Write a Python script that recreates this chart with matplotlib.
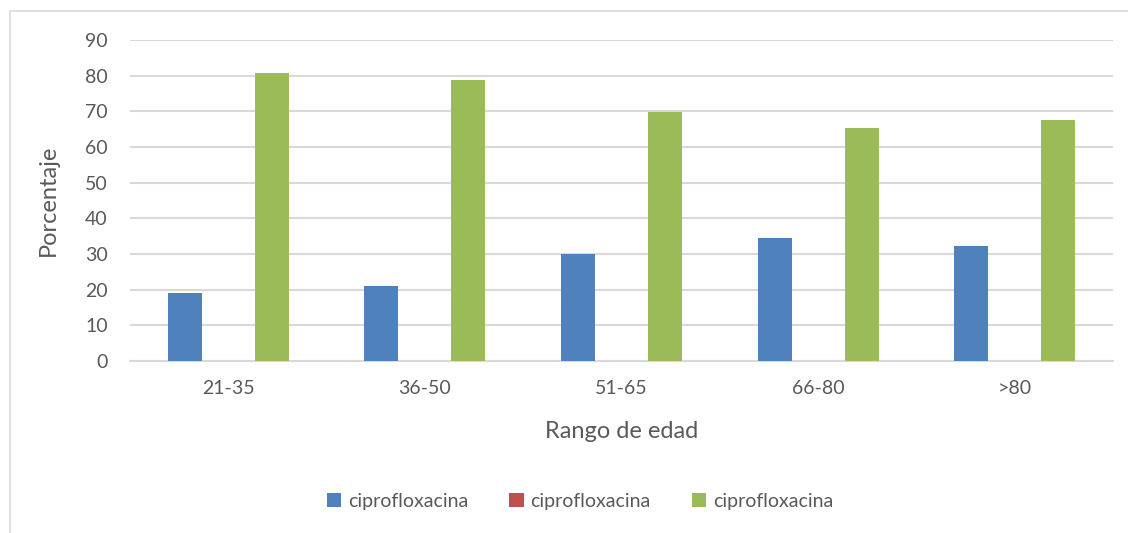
import numpy as np
import matplotlib.pyplot as plt
from matplotlib.patches import Rectangle

plt.rcParams['font.family'] = ['Lato', 'DejaVu Sans']

# Data
categories = ["21-35", "36-50", "51-65", "66-80", ">80"]
series_names = ["ciprofloxacina", "ciprofloxacina", "ciprofloxacina"]
serie_azul = [19.1, 21.0, 30.0, 34.4, 32.2]
serie_roja = [0, 0, 0, 0, 0]
serie_verde = [80.7, 78.8, 69.8, 65.3, 67.6]
yticks = list(range(0, 100, 10))

colors = ["#4f81bd", "#c0504d", "#9bbb59"]
text_color = "#595959"
grid_color = "#d9d9d9"

fig = plt.figure(figsize=(11.28, 5.33), dpi=100)
ax = fig.add_axes([130/1128, 1 - 361/533, 983/1128, 321/533])

x = np.arange(len(categories))
width = 0.173
step = 0.221
for i, (vals, name) in enumerate(zip([serie_azul, serie_roja, serie_verde], series_names)):
    ax.bar(x + (i - 1)*step, vals, width, color=colors[i], label=name, zorder=3)

ax.set_xlim(-0.5, len(categories) - 0.5)
ax.set_ylim(0, 90)
ax.set_yticks(yticks)
ax.set_xticks(x)
ax.set_xticklabels(categories)
ax.yaxis.grid(True, color=grid_color, linewidth=1.5, zorder=0)
ax.set_axisbelow(True)
for side in ["top", "right", "left"]:
    ax.spines[side].set_visible(False)
ax.spines["bottom"].set_color(grid_color)
ax.spines["bottom"].set_linewidth(1.5)
ax.tick_params(axis="both", length=0, labelsize=14, colors=text_color)
ax.tick_params(axis="x", pad=14)
ax.tick_params(axis="y", pad=16)

ax.set_xlabel("Rango de edad", fontsize=17, color=text_color, labelpad=17)
ax.set_ylabel("Porcentaje", fontsize=17, color=text_color, labelpad=19)

leg = fig.legend(loc="center", bbox_to_anchor=(580/1128, 1 - 501/533), ncol=3,
                 frameon=False, fontsize=14, handlelength=0.75, handleheight=0.75,
                 handletextpad=0.35, columnspacing=2.1)
for t in leg.get_texts():
    t.set_color(text_color)

# chart border
fig.patches.append(Rectangle((10/1128, -0.05), 1.2, 1 - 11/533 + 0.05,
                             transform=fig.transFigure, fill=False,
                             edgecolor="#d9d9d9", linewidth=1.2))

fig.savefig("out.png", dpi=100)
